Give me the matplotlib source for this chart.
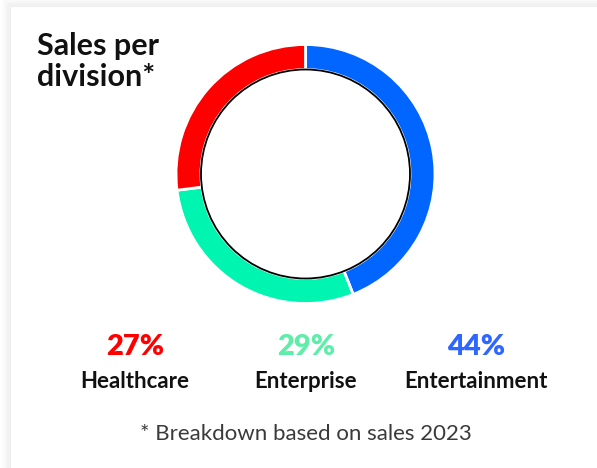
import numpy as np
import matplotlib
matplotlib.use("Agg")
import matplotlib.pyplot as plt
from matplotlib.patches import Circle

# DATA
divisions = ["Entertainment", "Enterprise", "Healthcare"]   # clockwise from top
shares = [44, 29, 27]
ring_colors = ["#0066ff", "#00f5b0", "#ff0000"]
text_colors = {"Healthcare": "#ff0000", "Enterprise": "#5eeeaa", "Entertainment": "#2f66ff"}
label_x = {"Healthcare": 135, "Enterprise": 306, "Entertainment": 476}  # px centres

title = "Sales per\ndivision*"
footnote = "* Breakdown based on sales 2023"

W, H = 597, 468
fig = plt.figure(figsize=(W / 100, H / 100), dpi=100)
fig.patch.set_facecolor("white")

# background card with soft shadow on top/left
bg = fig.add_axes([0, 0, 1, 1])
yy, xx = np.mgrid[0:H, 0:W]
d = np.maximum(np.abs(np.minimum(xx - 11, 0)), np.abs(np.minimum(yy - 7, 0)))
shade = np.where(d == 0, 1.0, 0.93 + 0.07 * np.clip(d / 11, 0, 1))
bg.imshow(shade, cmap="gray", vmin=0, vmax=1, extent=[0, W, H, 0], interpolation="bilinear")
bg.set_xlim(0, W)
bg.set_ylim(H, 0)
bg.axis("off")

# donut
cx, cy, half = 305.5, 174, 135
ax = fig.add_axes([(cx - half) / W, (H - cy - half) / H, 2 * half / W, 2 * half / H])
ax.pie(shares, colors=ring_colors, startangle=90, counterclock=False, radius=129.5,
       wedgeprops=dict(width=25, edgecolor="white", linewidth=2))
ax.add_patch(Circle((0, 0), 104.5, facecolor="none", edgecolor="black", linewidth=1.3, zorder=5))
ax.set_xlim(-half, half)
ax.set_ylim(-half, half)
ax.set_aspect("equal")
ax.axis("off")

font = "Lato"
bg.text(37, 32, title, fontsize=22, fontweight="bold", family=font, color="#111111",
        va="top", ha="left", linespacing=1.12)

for name in ["Healthcare", "Enterprise", "Entertainment"]:
    pct = shares[divisions.index(name)]
    bg.text(label_x[name], 347, f"{pct}%", fontsize=21, fontweight="heavy", family=font,
            color=text_colors[name], ha="center", va="center")
    bg.text(label_x[name], 381, name, fontsize=16, fontweight="bold", family=font,
            color="#111111", ha="center", va="center")

bg.text(306, 434, footnote, fontsize=16, fontweight="normal", family=font,
        color="#3a3a3a", ha="center", va="center")

fig.savefig("out.png", dpi=100)
